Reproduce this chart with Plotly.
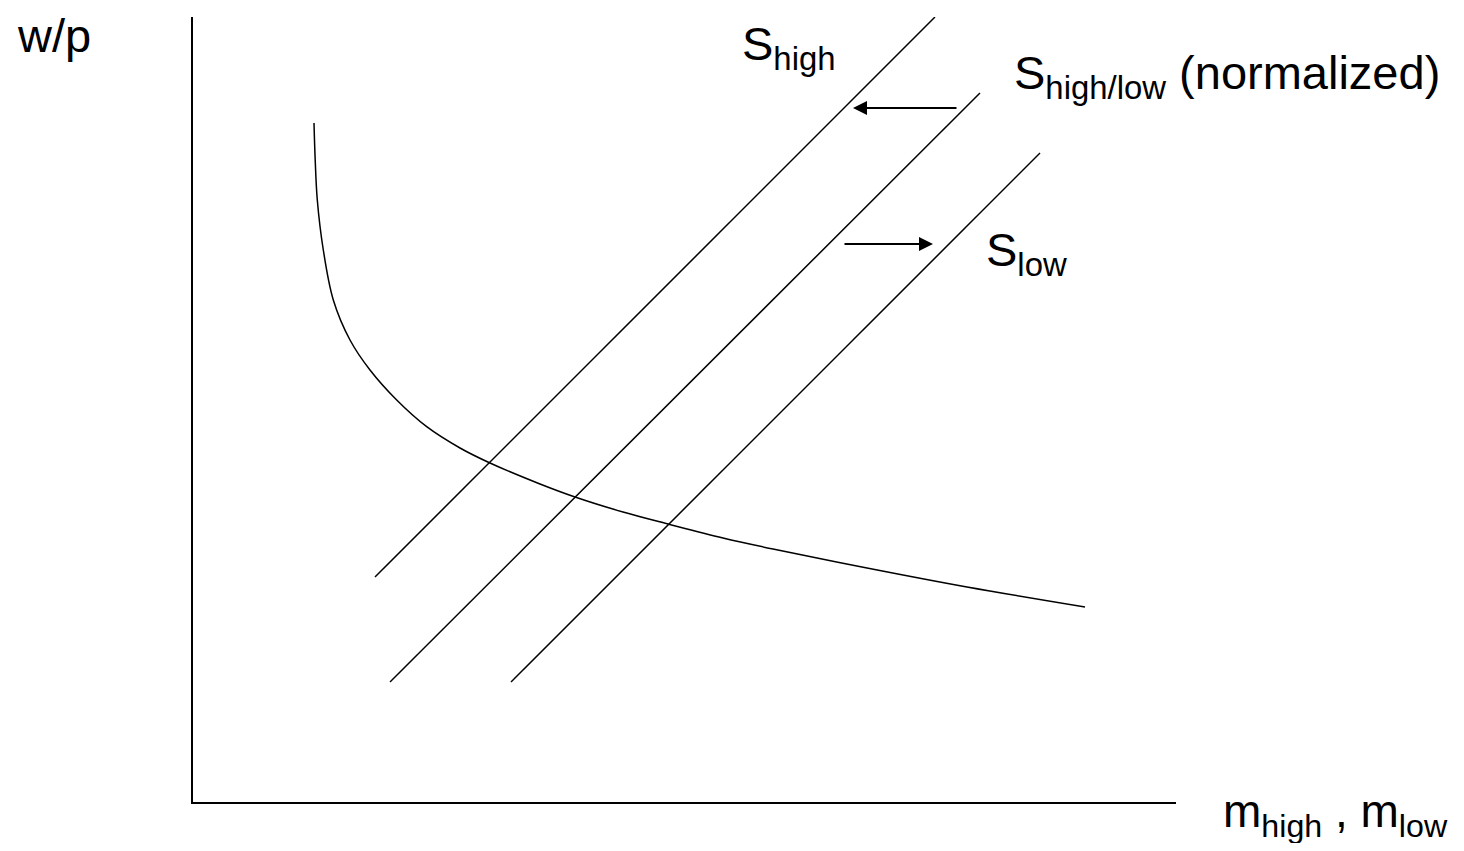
import plotly.graph_objects as go

# ---- data (x measured rightwards from the origin, y upwards from the origin) ----
s_high_x = [182, 742]
s_high_y = [225, 785]
s_norm_x = [197, 787]
s_norm_y = [120, 709]
s_low_x = [318, 847]
s_low_y = [120, 649]

demand_x = [121, 122.2, 124.3, 130.3, 140.3, 157, 177, 203.7, 233.7, 267, 297, 347, 382, 430, 475, 530, 580, 674, 774, 892]
demand_y = [679, 642, 602, 552, 502, 462, 432, 402, 375.3, 354, 339, 318, 305, 290, 278, 264, 253, 234, 215, 195]

# shift arrows: (tail_x, tail_y, head_x, head_y)
arrow_left = [765, 694, 660, 694]
arrow_right = [650, 558, 740, 558]

labels = ["w/p", "S<sub>high</sub>", "S<sub>high/low</sub> (normalized)", "S<sub>low</sub>",
          "m<sub>high</sub> , m<sub>low</sub>"]

# ---- figure ----
OX, OY = 193, 802      # page pixel position of origin
XR, YR = 1176 - OX, OY - 17   # axis lengths in pixels
FONT = "Liberation Sans, Arial, sans-serif"

fig = go.Figure()
line_style = dict(color="black", width=1.5)
for xs, ys in [(s_high_x, s_high_y), (s_norm_x, s_norm_y), (s_low_x, s_low_y)]:
    fig.add_trace(go.Scatter(x=xs, y=ys, mode="lines", line=line_style, hoverinfo="skip",
                             showlegend=False, cliponaxis=False))
fig.add_trace(go.Scatter(x=demand_x, y=demand_y, mode="lines",
                         line=dict(color="black", width=1.5, shape="spline", smoothing=1.0),
                         hoverinfo="skip", showlegend=False, cliponaxis=False))

for tx, ty, hx, hy in [arrow_left, arrow_right]:
    fig.add_annotation(x=hx, y=hy, ax=tx, ay=ty, xref="x", yref="y", axref="x", ayref="y",
                       text="", showarrow=True, arrowhead=2, arrowsize=1.4, arrowwidth=2,
                       arrowcolor="black", standoff=0, startstandoff=0)

# label positions in page pixels (left x, top y, font size)
label_pos = [(16, 8, 47), (741, 16, 47), (1013, 45, 47), (985, 222, 47), (1222, 784, 46)]
for txt, (px, py, fs) in zip(labels, label_pos):
    fig.add_annotation(x=(px - OX) / XR, y=(OY - py) / YR, xref="paper", yref="paper",
                       text=txt, showarrow=False, xanchor="left", yanchor="top", borderpad=0,
                       font=dict(family=FONT, size=fs, color="black"))

W, H = 1448, 835  # page has 8px body margin
fig.update_layout(
    width=W, height=H,
    margin=dict(l=OX - 8, r=W - (1176 - 8), t=17 - 8, b=H - (OY - 8), pad=0),
    plot_bgcolor="white", paper_bgcolor="white",
    xaxis=dict(range=[0, XR], showline=True, linecolor="black", linewidth=2,
               showgrid=False, zeroline=False, showticklabels=False, ticks="", fixedrange=True),
    yaxis=dict(range=[0, YR], showline=True, linecolor="black", linewidth=2,
               showgrid=False, zeroline=False, showticklabels=False, ticks="", fixedrange=True),
    hovermode=False,
)

fig.write_html("out.html", config={"displayModeBar": False})
